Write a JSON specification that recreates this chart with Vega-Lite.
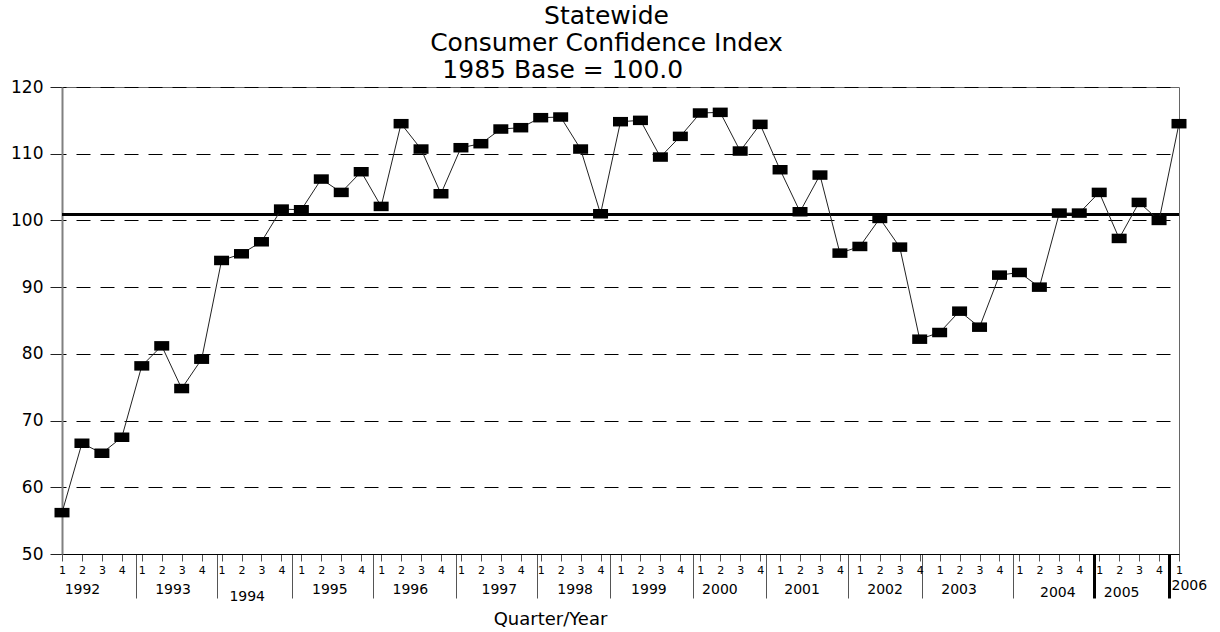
{
  "$schema": "https://vega.github.io/schema/vega-lite/v6.json",
  "width": 1117,
  "height": 467,
  "autosize": {"type": "none"},
  "padding": {"left": 62, "top": 87, "right": 41, "bottom": 78},
  "background": "white",
  "config": {
    "font": "DejaVu Sans",
    "view": {"stroke": "#666666", "strokeWidth": 1},
    "axisY": {
      "grid": true,
      "gridColor": "black",
      "gridDash": [14, 10],
      "gridDashOffset": 10,
      "gridWidth": 1,
      "domainColor": "#808080",
      "domainWidth": 2,
      "tickColor": "#222222",
      "tickSize": 12,
      "labelPadding": 7,
      "labelFontSize": 17,
      "labelColor": "black"
    }
  },
  "title": {
    "text": ["Statewide", "Consumer Confidence Index", "1985 Base = 100.0\u00a0\u00a0\u00a0\u00a0\u00a0\u00a0\u00a0\u00a0\u00a0\u00a0\u00a0\u200b"],
    "font": "DejaVu Sans",
    "fontSize": 25,
    "fontWeight": "normal",
    "lineHeight": 27,
    "color": "black",
    "anchor": "middle",
    "dx": -14,
    "offset": -5
  },
  "datasets": {
    "cci": [
      {"quarter": "1992 Q1", "idx": 0, "value": 56.2},
      {"quarter": "1992 Q2", "idx": 1, "value": 66.6},
      {"quarter": "1992 Q3", "idx": 2, "value": 65.1},
      {"quarter": "1992 Q4", "idx": 3, "value": 67.5},
      {"quarter": "1993 Q1", "idx": 4, "value": 78.2},
      {"quarter": "1993 Q2", "idx": 5, "value": 81.2},
      {"quarter": "1993 Q3", "idx": 6, "value": 74.8},
      {"quarter": "1993 Q4", "idx": 7, "value": 79.2},
      {"quarter": "1994 Q1", "idx": 8, "value": 94.0},
      {"quarter": "1994 Q2", "idx": 9, "value": 95.0},
      {"quarter": "1994 Q3", "idx": 10, "value": 96.8},
      {"quarter": "1994 Q4", "idx": 11, "value": 101.7},
      {"quarter": "1995 Q1", "idx": 12, "value": 101.6},
      {"quarter": "1995 Q2", "idx": 13, "value": 106.2},
      {"quarter": "1995 Q3", "idx": 14, "value": 104.2},
      {"quarter": "1995 Q4", "idx": 15, "value": 107.3},
      {"quarter": "1996 Q1", "idx": 16, "value": 102.1},
      {"quarter": "1996 Q2", "idx": 17, "value": 114.5},
      {"quarter": "1996 Q3", "idx": 18, "value": 110.7},
      {"quarter": "1996 Q4", "idx": 19, "value": 104.0},
      {"quarter": "1997 Q1", "idx": 20, "value": 110.9},
      {"quarter": "1997 Q2", "idx": 21, "value": 111.5},
      {"quarter": "1997 Q3", "idx": 22, "value": 113.7},
      {"quarter": "1997 Q4", "idx": 23, "value": 113.9},
      {"quarter": "1998 Q1", "idx": 24, "value": 115.4},
      {"quarter": "1998 Q2", "idx": 25, "value": 115.5},
      {"quarter": "1998 Q3", "idx": 26, "value": 110.7},
      {"quarter": "1998 Q4", "idx": 27, "value": 101.0},
      {"quarter": "1999 Q1", "idx": 28, "value": 114.8},
      {"quarter": "1999 Q2", "idx": 29, "value": 115.0},
      {"quarter": "1999 Q3", "idx": 30, "value": 109.5},
      {"quarter": "1999 Q4", "idx": 31, "value": 112.6},
      {"quarter": "2000 Q1", "idx": 32, "value": 116.1},
      {"quarter": "2000 Q2", "idx": 33, "value": 116.2},
      {"quarter": "2000 Q3", "idx": 34, "value": 110.4},
      {"quarter": "2000 Q4", "idx": 35, "value": 114.4},
      {"quarter": "2001 Q1", "idx": 36, "value": 107.6},
      {"quarter": "2001 Q2", "idx": 37, "value": 101.3},
      {"quarter": "2001 Q3", "idx": 38, "value": 106.8},
      {"quarter": "2001 Q4", "idx": 39, "value": 95.1},
      {"quarter": "2002 Q1", "idx": 40, "value": 96.1},
      {"quarter": "2002 Q2", "idx": 41, "value": 100.3},
      {"quarter": "2002 Q3", "idx": 42, "value": 96.0},
      {"quarter": "2002 Q4", "idx": 43, "value": 82.2},
      {"quarter": "2003 Q1", "idx": 44, "value": 83.2},
      {"quarter": "2003 Q2", "idx": 45, "value": 86.4},
      {"quarter": "2003 Q3", "idx": 46, "value": 84.0},
      {"quarter": "2003 Q4", "idx": 47, "value": 91.8},
      {"quarter": "2004 Q1", "idx": 48, "value": 92.2},
      {"quarter": "2004 Q2", "idx": 49, "value": 90.0},
      {"quarter": "2004 Q3", "idx": 50, "value": 101.1},
      {"quarter": "2004 Q4", "idx": 51, "value": 101.1},
      {"quarter": "2005 Q1", "idx": 52, "value": 104.2},
      {"quarter": "2005 Q2", "idx": 53, "value": 97.3},
      {"quarter": "2005 Q3", "idx": 54, "value": 102.7},
      {"quarter": "2005 Q4", "idx": 55, "value": 100.0},
      {"quarter": "2006 Q1", "idx": 56, "value": 114.5}
    ],
    "base": [{"base": 100.9}]
  },
  "layer": [
    {
      "data": {"name": "base"},
      "mark": {"type": "rule", "color": "black", "strokeWidth": 3},
      "encoding": {
        "x": {
          "datum": 0,
          "type": "quantitative",
          "scale": {"domain": [0, 56], "nice": false, "zero": false},
          "axis": {
            "orient": "bottom",
            "title": null,
            "values": [3.69, 7.79, 11.51, 15.6, 19.75, 23.79, 27.46, 31.62, 35.29, 39.41, 43.1, 47.66, 51.75, 55.5],
            "labels": false,
            "domain": false,
            "grid": false,
            "ticks": true,
            "tickSize": 44,
            "tickColor": {"condition": {"test": "datum.value > 51", "value": "black"}, "value": "#555555"},
            "tickWidth": {"condition": {"test": "datum.value > 51", "value": 3}, "value": 1}
          }
        },
        "x2": {"datum": 56},
        "y": {
          "field": "base",
          "type": "quantitative",
          "scale": {"domain": [50, 120], "nice": false, "zero": false},
          "axis": {"title": null}
        }
      }
    },
    {
      "data": {"name": "cci"},
      "mark": {"type": "line", "color": "#222222", "strokeWidth": 1},
      "encoding": {
        "x": {
          "field": "idx",
          "type": "quantitative",
          "scale": {"domain": [0, 56], "nice": false, "zero": false},
          "axis": {
            "orient": "bottom",
            "title": "Quarter/Year",
            "titleFontSize": 18,
            "titleFontWeight": "normal",
            "titleColor": "black",
            "titleX": 488,
            "titleY": 65,
            "titleBaseline": "middle",
            "values": [0,1,2,3,4,5,6,7,8,9,10,11,12,13,14,15,16,17,18,19,20,21,22,23,24,25,26,27,28,29,30,31,32,33,34,35,36,37,38,39,40,41,42,43,44,45,46,47,48,49,50,51,52,53,54,55,56],
            "labelExpr": "'' + (datum.value % 4 + 1)",
            "labelFontSize": 11,
            "labelColor": "black",
            "labelPadding": 3,
            "labelOverlap": false,
            "labelFlush": false,
            "labelBound": false,
            "tickSize": 7,
            "tickColor": "#555555",
            "domainColor": "black",
            "domainWidth": 1,
            "grid": false
          }
        },
        "y": {
          "field": "value",
          "type": "quantitative",
          "scale": {"domain": [50, 120], "nice": false, "zero": false},
          "axis": {"title": null, "values": [50, 60, 70, 80, 90, 100, 110, 120]}
        }
      }
    },
    {
      "data": {"name": "cci"},
      "mark": {
        "type": "point",
        "shape": "M-1,-0.633H1V0.633H-1Z",
        "size": 225,
        "filled": true,
        "color": "black",
        "opacity": 1
      },
      "encoding": {
        "x": {
          "field": "idx",
          "type": "quantitative",
          "scale": {"domain": [0, 56], "nice": false, "zero": false},
          "axis": {
            "orient": "bottom",
            "title": null,
            "values": [1.0, 5.54, 9.26, 13.4, 17.44, 21.9, 25.7, 29.4, 32.96, 37.08, 41.24, 44.95, 49.9, 53.1, 55.6],
            "labelExpr": "'' + (1992 + floor((datum.value + 0.5) / 4))",
            "labelFontSize": 14,
            "labelColor": "black",
            "labelAlign": {"condition": {"test": "datum.value > 55", "value": "left"}, "value": "center"},
            "labelPadding": {"condition": [
              {"test": "datum.value > 9 && datum.value < 10", "value": 35},
              {"test": "datum.value > 49 && datum.value < 54", "value": 31},
              {"test": "datum.value > 55", "value": 24}
            ], "value": 28},
            "labelOverlap": false,
            "labelFlush": false,
            "labelBound": false,
            "domain": false,
            "ticks": false,
            "grid": false
          }
        },
        "y": {
          "field": "value",
          "type": "quantitative",
          "scale": {"domain": [50, 120], "nice": false, "zero": false},
          "axis": {"title": null}
        }
      }
    }
  ],
  "resolve": {"axis": {"x": "independent"}}
}
